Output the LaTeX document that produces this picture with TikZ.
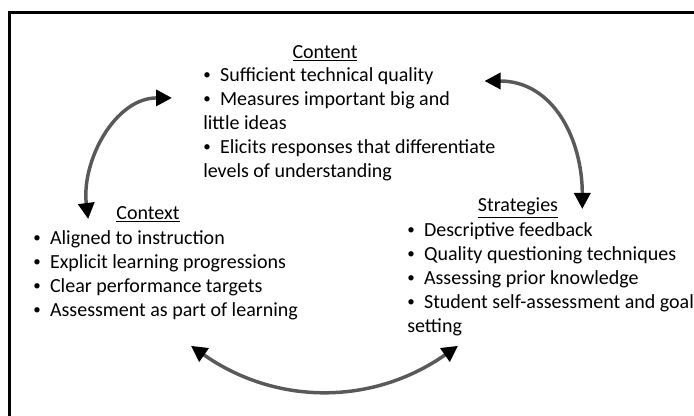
\documentclass[tikz,border=0pt]{standalone}
\usepackage{fontspec}
\setmainfont{Carlito}
\usetikzlibrary{positioning,arrows.meta}

\begin{document}
\begin{tikzpicture}[x=0.75pt, y=0.75pt]
    \tikzset{
        heading/.style = {inner sep=0pt, font=\fontsize{15}{18}\selectfont},
        itemlist/.style = {inner sep=0pt, align=left, anchor=north west, font=\fontsize{15}{18}\selectfont},
        loopArrow/.style = {line width=2.6pt, draw=black!65,
                            {Triangle[length=12pt,width=12pt,color=black]}-{Triangle[length=12pt,width=12pt,color=black]}}
    }
    \newcommand{\itm}{\raisebox{1pt}{\scalebox{0.75}{\textbullet}}\hspace{7pt}}
    \useasboundingbox (0,0) rectangle (694,416);
    % frame, only top and left edges show
    \draw[line width=2.25pt] (9.5,0) |- (694,403.5);

    \node (content) [itemlist] at (203,349) {\itm Sufficient technical quality\\ \itm Measures important big and\\ little ideas\\ \itm Elicits responses that differentiate\\ levels of understanding};
    \node (contentTitle) [heading] at (325,363) {\underline{Content}};

    \node (context) [itemlist] at (33,186) {\itm Aligned to instruction\\ \itm Explicit learning progressions\\ \itm Clear performance targets\\ \itm Assessment as part of learning};
    \node (contextTitle) [heading] at (148,202) {\underline{Context}};

    \node (strat) [itemlist] at (407,194) {\itm Descriptive feedback\\ \itm Quality questioning techniques\\ \itm Assessing prior knowledge\\ \itm Student self-assessment and goal\\ setting};
    \node (stratTitle) [heading] at (518,208) {\underline{Strategies}};

    \draw [loopArrow] ([shift={(-28,-5)}]contextTitle.west) to[out=97, in=180] ([shift={(-31,26)}]content.west);
    \draw [loopArrow] ([shift={(-11,-14)}]content.north east) to[out=0, in=90, looseness=1.1] ([shift={(24,-1)}]stratTitle.east);
    \draw [loopArrow] ([shift={(158,-26)}]context.south west) to[out=-35, in=-145] ([shift={(51,-10)}]strat.south west);
\end{tikzpicture}
\end{document}
